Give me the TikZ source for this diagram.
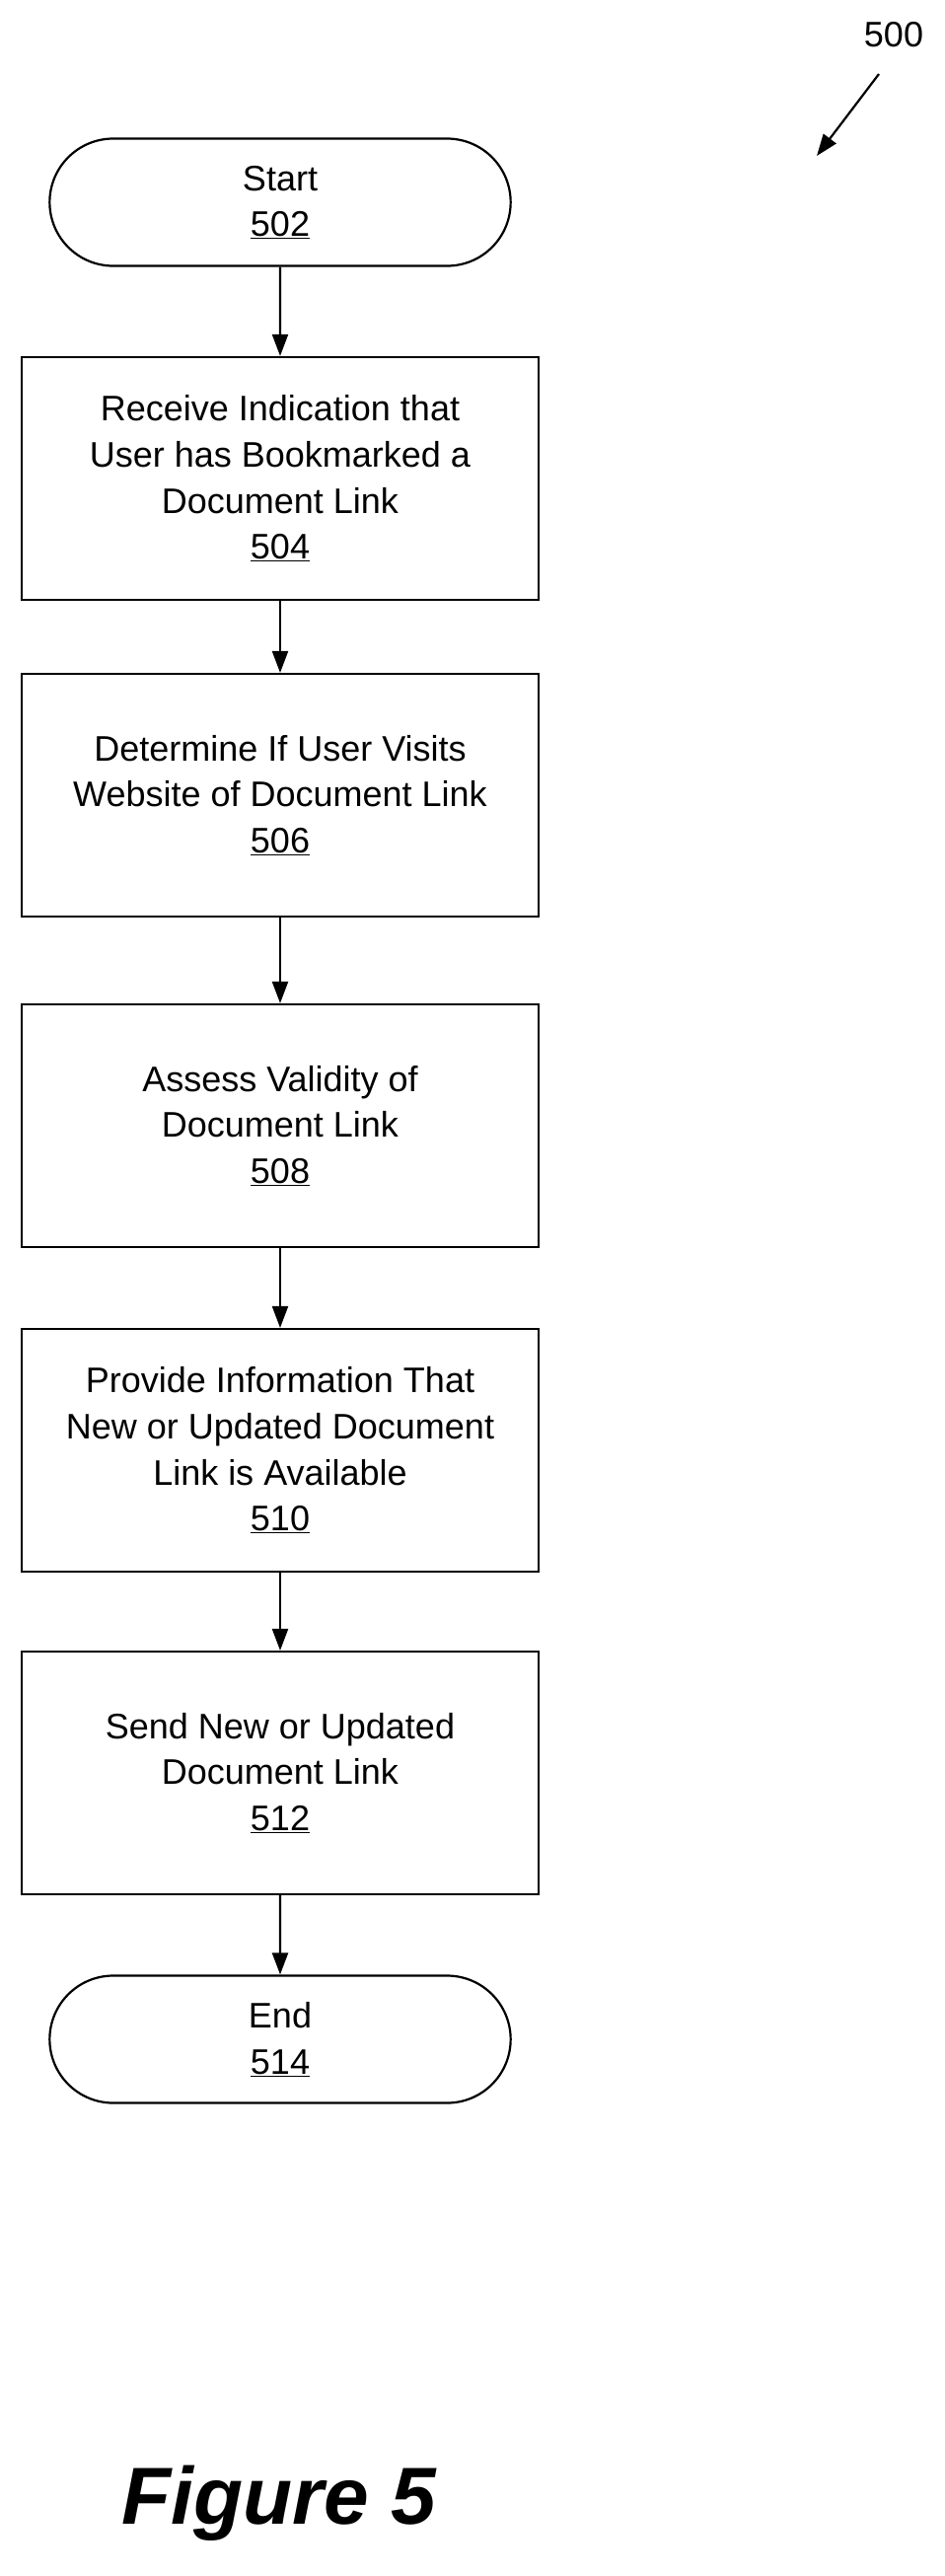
\documentclass[tikz,border=0pt]{standalone}
\usepackage{fontspec}
\setmainfont{Liberation Sans}
\usetikzlibrary{arrows.meta,shapes.misc}
\begin{document}
\begin{tikzpicture}[x=1pt,y=-1pt,
  box/.style={draw,line width=2.2pt,minimum width=524pt,minimum height=246pt,align=center,font=\fontsize{36}{46.6}\selectfont},
  term/.style={draw,line width=2.2pt,rounded rectangle,minimum width=474pt,minimum height=129pt,align=center,font=\fontsize{36}{46.6}\selectfont},
  arr/.style={-{Triangle[length=22pt,width=16pt]},line width=2.2pt}]
\useasboundingbox (0,0) rectangle (958,2611);
\node[term] (s) at (284,205) {Start\\\underline{502}};
\node[box] (b4) at (284,485) {Receive Indication that\\User has Bookmarked a\\Document Link\\\underline{504}};
\node[box] (b6) at (284,806) {Determine If User Visits\\Website of Document Link\\\underline{506}};
\node[box] (b8) at (284,1141) {Assess Validity of\\Document Link\\\underline{508}};
\node[box] (b10) at (284,1470) {Provide Information That\\New or Updated Document\\Link is Available\\\underline{510}};
\node[box] (b12) at (284,1797) {Send New or Updated\\Document Link\\\underline{512}};
\node[term] (e) at (284,2067) {End\\\underline{514}};
\draw[arr] (s) -- (b4);
\draw[arr] (b4) -- (b6);
\draw[arr] (b6) -- (b8);
\draw[arr] (b8) -- (b10);
\draw[arr] (b10) -- (b12);
\draw[arr] (b12) -- (e);
\node[font=\fontsize{36}{40}\selectfont] (l) at (906,35) {500};
\coordinate (a1) at (891,75);
\coordinate (a2) at (828,158);
\draw[arr] (a1) -- (a2);
\node[font=\fontsize{82}{90}\selectfont\bfseries\itshape] (f) at (283,2537) {Figure 5};
\end{tikzpicture}
\end{document}
